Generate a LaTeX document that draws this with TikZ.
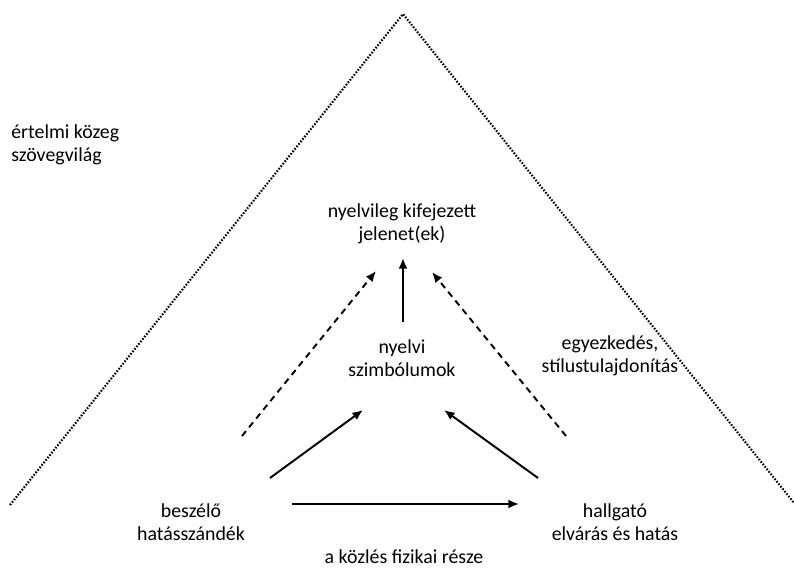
\documentclass[tikz,border=0pt]{standalone}
\usepackage{fontspec}
\setmainfont{Carlito}
\usetikzlibrary{arrows.meta}
\tikzset{
  txt/.style={align=center, inner sep=0pt, font=\fontsize{11.3}{13}\selectfont},
  arr/.style={line width=1.1pt, -{Latex[length=6pt,width=5pt]}},
  darr/.style={arr, dash pattern=on 3.6pt off 2.8pt},
  edge/.style={line width=1.2pt, dash pattern=on 0.9pt off 0.9pt}
}

\begin{document}
\begin{tikzpicture}[x=0.02cm, y=-0.02cm]
		%%%%% START %%%%%
		\useasboundingbox (0, 0) rectangle (794, 579);
		
		% outer dotted frame
		\coordinate (apex) at (403, 14);
		\coordinate (baseL) at (10, 505);
		\coordinate (baseR) at (794, 503);
		\draw[edge] (baseL) -- (apex) -- (baseR);
		
		\node[txt, anchor=west, align=left] (kozeg) at (11, 145) {értelmi közeg\\szövegvilág};
		
		% texts
		\node[txt] (jelenet) at (402, 224) {nyelvileg kifejezett\\jelenet(ek)};
		\node[txt] (szimb) at (402, 358) {nyelvi\\szimbólumok};
		\node[txt] (egyezk) at (610, 356) {egyezkedés,\\stílustulajdonítás};
		\node[txt] (beszelo) at (191, 522) {beszélő\\hatásszándék};
		\node[txt] (hallgato) at (615, 522) {hallgató\\elvárás és hatás};
		\node[txt] (fizikai) at (404, 557) {a közlés fizikai része};
		
		% arrow ends
		\coordinate (vFrom) at (403, 322);
		\coordinate (vTo) at (403, 258);
		\coordinate (dlFrom) at (242, 436);
		\coordinate (dlTo) at (376, 271);
		\coordinate (drFrom) at (566, 436);
		\coordinate (drTo) at (432, 272);
		\coordinate (slFrom) at (270, 478);
		\coordinate (slTo) at (363, 410);
		\coordinate (srFrom) at (538, 478);
		\coordinate (srTo) at (444, 410);
		\coordinate (hFrom) at (292, 504);
		\coordinate (hTo) at (519, 504);
		
		\draw[arr] (vFrom) -- (vTo);
		\draw[darr] (dlFrom) -- (dlTo);
		\draw[darr] (drFrom) -- (drTo);
		\draw[arr] (slFrom) -- (slTo);
		\draw[arr] (srFrom) -- (srTo);
		\draw[arr] (hFrom) -- (hTo);
		
		%%%%% END %%%%%
	\end{tikzpicture}
\end{document}
